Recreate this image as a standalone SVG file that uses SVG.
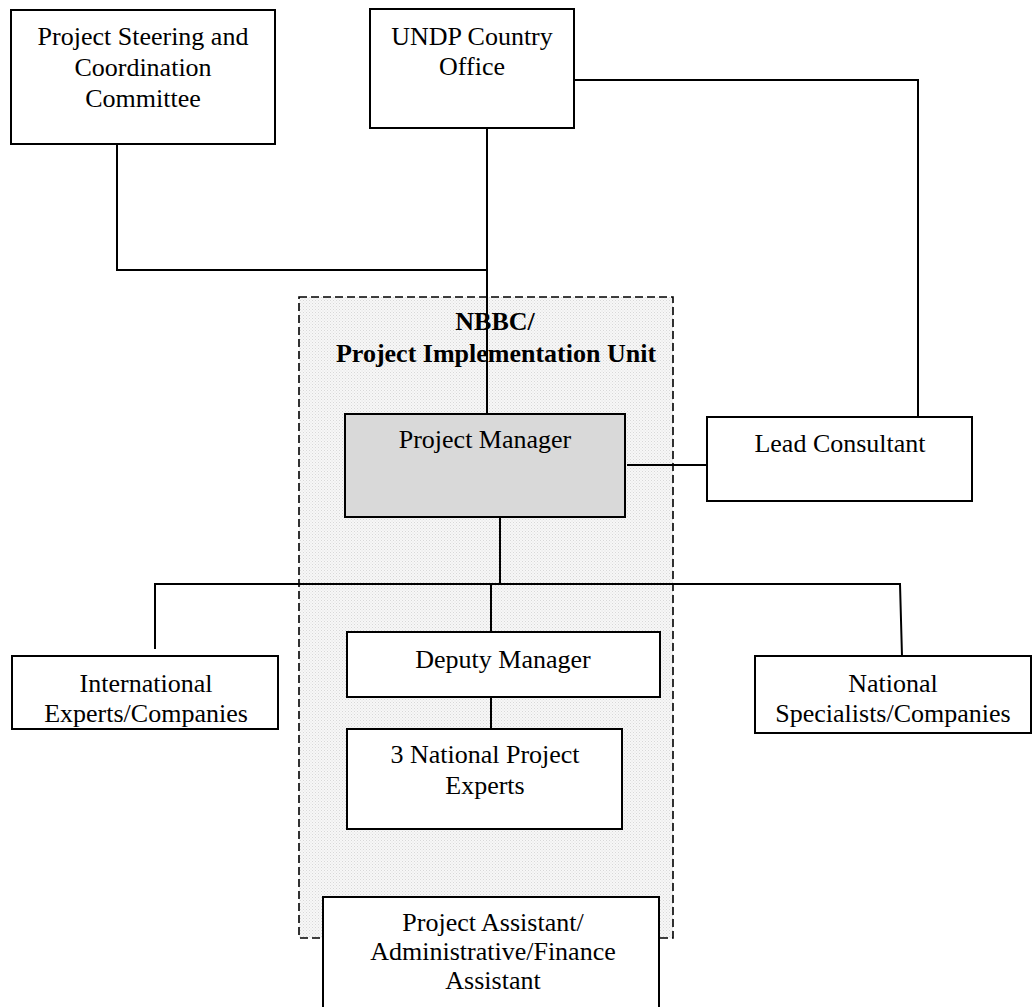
<svg xmlns="http://www.w3.org/2000/svg" width="1034" height="1007" viewBox="0 0 1034 1007">
<defs>
<pattern id="dots" width="3" height="3" patternUnits="userSpaceOnUse">
<rect width="3" height="3" fill="#f7f7f7"/>
<rect width="1" height="1" fill="#d8d8d8"/>
<rect x="1.5" y="1.5" width="1" height="1" fill="#e2e2e2"/>
</pattern>
<style>
.box{fill:#ffffff;stroke:#000;stroke-width:2}
.pm{fill:#d9d9d9;stroke:#000;stroke-width:2}
.t{font-family:"Liberation Serif","Times New Roman",serif;font-size:26px;fill:#000;text-anchor:middle}
.b{font-weight:bold}
.c{fill:none;stroke:#000;stroke-width:2}
</style>
</defs>
<rect width="1034" height="1007" fill="#fff"/>
<g id="piu">
<rect x="299" y="297" width="374" height="641" fill="url(#dots)" stroke="#000" stroke-width="1.6" stroke-dasharray="8,4"/>
<text class="t b" x="495" y="330">NBBC/</text>
<text class="t b" x="496" y="362">Project Implementation Unit</text>
</g>
<g id="connectors">
<polyline class="c" points="117,144 117,270 487,270"/>
<line class="c" x1="487" y1="128" x2="487" y2="414"/>
<polyline class="c" points="572,80 918,80 918,417"/>
<line class="c" x1="627" y1="465" x2="707" y2="465"/>
<line class="c" x1="500" y1="517" x2="500" y2="584"/>
<polyline class="c" points="155,649 155,584 900,584 902,656"/>
<line class="c" x1="491" y1="584" x2="491" y2="632"/>
<line class="c" x1="491" y1="697" x2="491" y2="729"/>
</g>
<g id="pscc">
<rect class="box" x="11" y="10" width="264" height="134"/>
<text class="t" x="143" y="45">Project Steering and</text>
<text class="t" x="143" y="76">Coordination</text>
<text class="t" x="143" y="107">Committee</text>
</g>
<g id="undp">
<rect class="box" x="370" y="9" width="204" height="119"/>
<text class="t" x="472" y="45">UNDP Country</text>
<text class="t" x="472" y="75">Office</text>
</g>
<g id="pm">
<rect class="pm" x="345" y="414" width="280" height="103"/>
<text class="t" x="485" y="448">Project Manager</text>
</g>
<g id="lead">
<rect class="box" x="707" y="417" width="265" height="84"/>
<text class="t" x="840" y="452">Lead Consultant</text>
</g>
<g id="intl">
<rect class="box" x="12" y="656" width="266" height="73"/>
<text class="t" x="146" y="692">International</text>
<text class="t" x="146" y="722">Experts/Companies</text>
</g>
<g id="natl">
<rect class="box" x="755" y="656" width="276" height="77"/>
<text class="t" x="893" y="692">National</text>
<text class="t" x="893" y="722">Specialists/Companies</text>
</g>
<g id="deputy">
<rect class="box" x="347" y="632" width="313" height="65"/>
<text class="t" x="503" y="668">Deputy Manager</text>
</g>
<g id="experts">
<rect class="box" x="347" y="729" width="275" height="100"/>
<text class="t" x="485" y="763">3 National Project</text>
<text class="t" x="485" y="794">Experts</text>
</g>
<g id="assistant">
<rect class="box" x="323" y="897" width="336" height="115"/>
<text class="t" x="493" y="931">Project Assistant/</text>
<text class="t" x="493" y="960">Administrative/Finance</text>
<text class="t" x="493" y="989">Assistant</text>
</g>
</svg>
